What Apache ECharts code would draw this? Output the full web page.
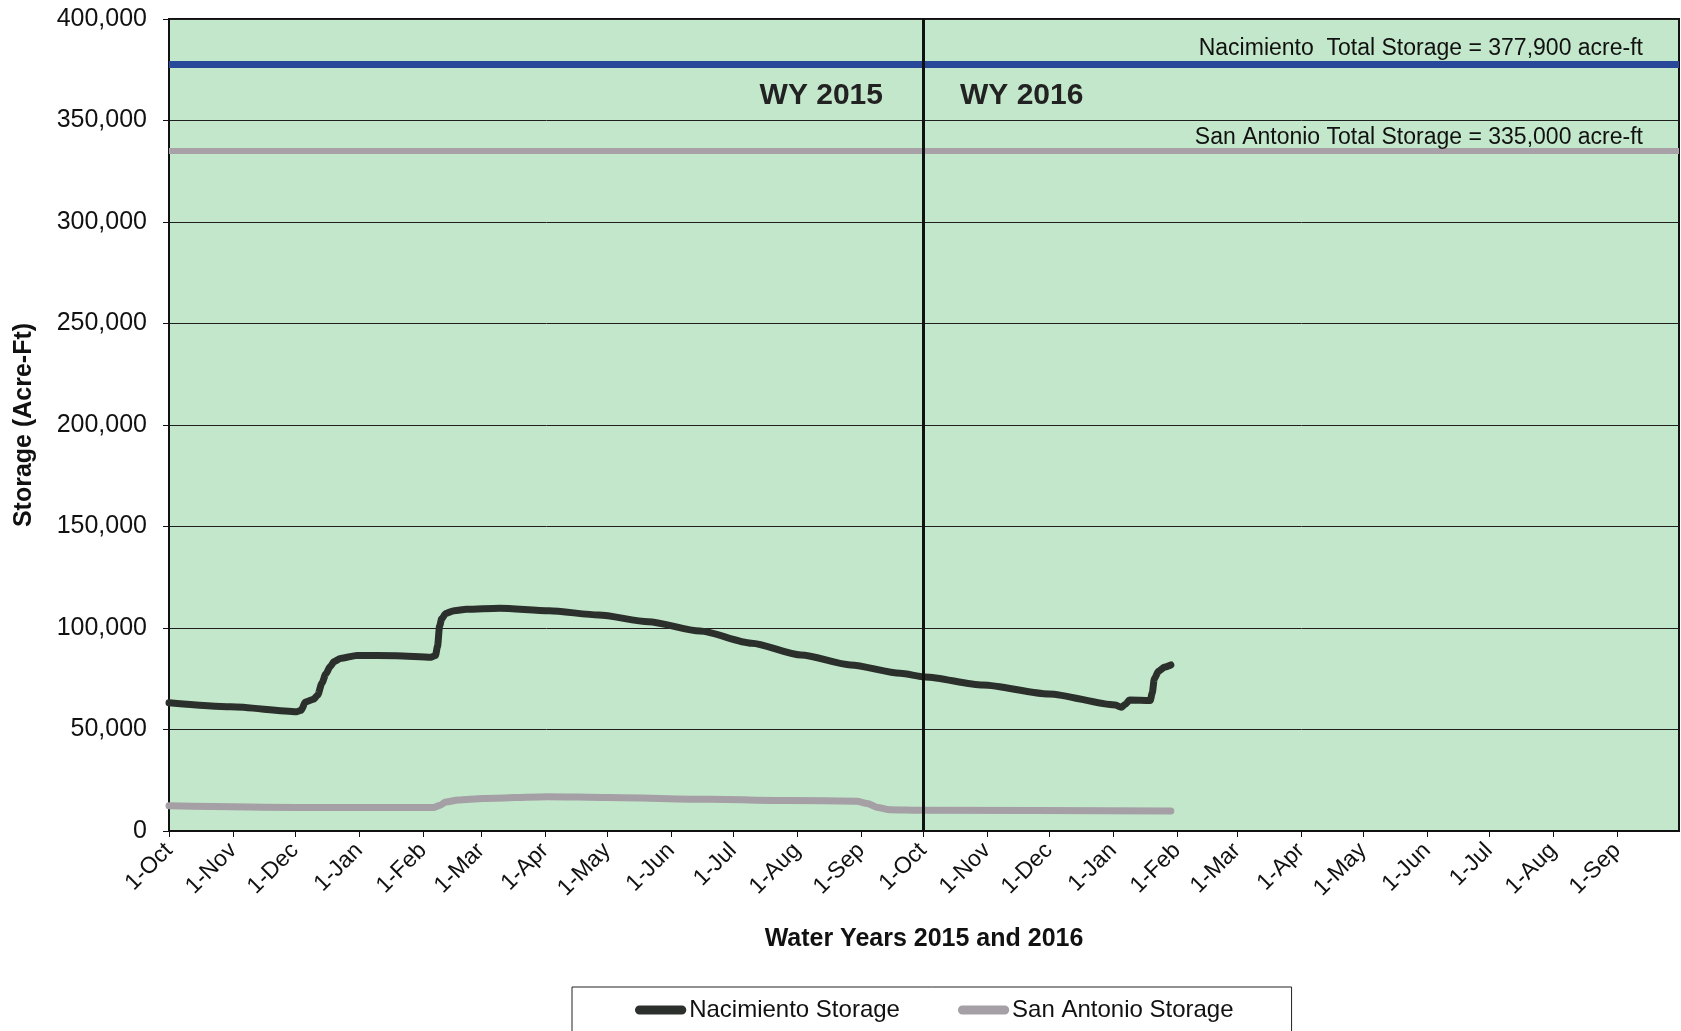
<!DOCTYPE html>
<html>
<head>
<meta charset="utf-8">
<script src="https://cdn.jsdelivr.net/npm/echarts@6/dist/echarts.min.js"></script>
<style>
  html, body { margin: 0; padding: 0; background: #ffffff; }
  #chart { width: 1681px; height: 1031px; }
</style>
</head>
<body>
<div id="chart"></div>
<script>
// ---- Data ----
const startDate = '2014-10-01';
const endDate = '2016-10-01';

const tickDates = [
  '2014-10-01','2014-11-01','2014-12-01','2015-01-01','2015-02-01','2015-03-01',
  '2015-04-01','2015-05-01','2015-06-01','2015-07-01','2015-08-01','2015-09-01',
  '2015-10-01','2015-11-01','2015-12-01','2016-01-01','2016-02-01','2016-03-01',
  '2016-04-01','2016-05-01','2016-06-01','2016-07-01','2016-08-01','2016-09-01'
];
const tickLabels = [
  '1-Oct','1-Nov','1-Dec','1-Jan','1-Feb','1-Mar','1-Apr','1-May','1-Jun','1-Jul','1-Aug','1-Sep',
  '1-Oct','1-Nov','1-Dec','1-Jan','1-Feb','1-Mar','1-Apr','1-May','1-Jun','1-Jul','1-Aug','1-Sep'
];

const nacDates = [
  '2014-10-01','2014-10-31','2014-12-02','2014-12-04','2014-12-06','2014-12-10','2014-12-12',
  '2014-12-14','2014-12-16','2014-12-18','2014-12-20','2014-12-23','2014-12-31','2015-01-19',
  '2015-02-05','2015-02-07','2015-02-08','2015-02-09','2015-02-10','2015-02-12','2015-02-16',
  '2015-02-22','2015-03-10','2015-04-03','2015-04-27','2015-05-21','2015-06-15','2015-07-10',
  '2015-08-03','2015-08-27','2015-09-20','2015-10-02','2015-10-30','2015-12-01','2016-01-02',
  '2016-01-05','2016-01-07','2016-01-09','2016-01-19','2016-01-20','2016-01-21','2016-01-23',
  '2016-01-26','2016-01-29'
];
const nacValues = [
  63200, 61200, 58800, 59500, 63500, 64900, 67000,
  72800, 77500, 81000, 83500, 85000, 86500, 86300,
  85600, 86500, 91000, 101000, 104500, 107200, 108500,
  109200, 109700, 108500, 106400, 103100, 98500, 92500,
  86700, 81800, 77700, 75900, 71900, 67500, 62100,
  61000, 62500, 64500, 64300, 68000, 75000, 78700,
  80800, 81800
];

const saDates = [
  '2014-10-01','2014-12-02','2015-02-06','2015-02-09','2015-02-12','2015-02-18','2015-03-02',
  '2015-04-02','2015-05-02','2015-06-20','2015-07-28','2015-08-30','2015-09-04','2015-09-09',
  '2015-09-15','2015-10-01','2016-01-29'
];
const saValues = [
  12400, 11600, 11600, 12600, 14300, 15300, 16000,
  16900, 16500, 15600, 15000, 14700, 13600, 11600,
  10500, 10200, 9900
];

const nacTotal = 377900;
const saTotal = 335000;
const nacTotalLabel = 'Nacimiento  Total Storage = 377,900 acre-ft';
const saTotalLabel = 'San Antonio Total Storage = 335,000 acre-ft';
const yearSplitDate = '2015-10-01';
const yearLabels = ['WY 2015', 'WY 2016'];
const yearLabelLevel = 362000;

const seriesNames = ['Nacimiento Storage', 'San Antonio Storage'];

// ---- Helpers ----
function dayOf(s) {
  const p = s.split('-').map(Number);
  const o = startDate.split('-').map(Number);
  return Math.round((Date.UTC(p[0], p[1] - 1, p[2]) - Date.UTC(o[0], o[1] - 1, o[2])) / 86400000);
}
const tickDays = tickDates.map(dayOf);
const nacData = nacDates.map((d, i) => [dayOf(d), nacValues[i]]);
const saData = saDates.map((d, i) => [dayOf(d), saValues[i]]);
const splitDay = dayOf(yearSplitDate);

const FONT = '"Liberation Sans", Arial, Helvetica, sans-serif';
const capsule = 'path://M5,0 L52,0 A5,5 0 0 1 52,10 L5,10 A5,5 0 0 1 5,0 Z';

const chart = echarts.init(document.getElementById('chart'), null, { renderer: 'canvas' });

const option = {
  backgroundColor: '#ffffff',
  animation: false,
  textStyle: { fontFamily: FONT },
  grid: {
    left: 169, right: 2, top: 19, bottom: 200,
    show: true,
    backgroundColor: '#c3e7ca',
    borderColor: '#111111',
    borderWidth: 2
  },
  legend: {
    data: [
      { name: seriesNames[0], icon: capsule },
      { name: seriesNames[1], icon: capsule }
    ],
    left: 572,
    top: 987,
    orient: 'horizontal',
    itemWidth: 57,
    itemHeight: 9,
    itemGap: 58,
    padding: [11, 58, 40, 63],
    borderColor: '#222222',
    borderWidth: 1,
    textStyle: { fontFamily: FONT, fontSize: 24, color: '#111111', padding: [0, 0, 0, -5] }
  },
  xAxis: {
    type: 'value',
    min: 0,
    max: dayOf(endDate),
    name: 'Water Years 2015 and 2016',
    nameLocation: 'middle',
    nameGap: 96,
    nameTextStyle: { fontFamily: FONT, fontSize: 25, fontWeight: 'bold', color: '#111111' },
    axisLine: { show: true, lineStyle: { color: '#111111', width: 2 } },
    axisTick: { show: true, customValues: tickDays, length: 6, lineStyle: { color: '#111111', width: 1 } },
    axisLabel: {
      show: true,
      customValues: tickDays,
      rotate: 45,
      margin: 16,
      fontFamily: FONT,
      fontSize: 23,
      color: '#111111',
      formatter: function (v) {
        const i = tickDays.indexOf(Math.round(v));
        return i >= 0 ? tickLabels[i] : '';
      }
    },
    splitLine: { show: false }
  },
  yAxis: {
    type: 'value',
    min: 0,
    max: 400000,
    interval: 50000,
    name: 'Storage (Acre-Ft)',
    nameLocation: 'middle',
    nameGap: 132,
    nameRotate: 90,
    nameTextStyle: { fontFamily: FONT, fontSize: 25, fontWeight: 'bold', color: '#111111' },
    axisLine: { show: true, lineStyle: { color: '#111111', width: 2 } },
    axisTick: { show: true, length: 6, lineStyle: { color: '#111111', width: 1 } },
    axisLabel: {
      margin: 22,
      fontFamily: FONT,
      fontSize: 25,
      color: '#111111',
      formatter: function (v) { return v.toLocaleString('en-US'); }
    },
    splitLine: { show: true, lineStyle: { color: '#1e1e1e', width: 1 } }
  },
  series: [
    {
      name: seriesNames[1],
      type: 'line',
      data: saData,
      showSymbol: false,
      smooth: 0.25,
      smoothMonotone: 'x',
      color: '#a59fa6',
      lineStyle: { color: '#a59fa6', width: 7, cap: 'round', join: 'round' },
      z: 3
    },
    {
      name: seriesNames[0],
      type: 'line',
      data: nacData,
      showSymbol: false,
      smooth: 0.25,
      smoothMonotone: 'x',
      color: '#2b302d',
      lineStyle: { color: '#2b302d', width: 7, cap: 'round', join: 'round' },
      z: 4,
      markLine: {
        silent: true,
        symbol: ['none', 'none'],
        animation: false,
        data: [
          {
            yAxis: nacTotal,
            lineStyle: { color: '#28489a', width: 7, type: 'solid' },
            label: {
              show: true, position: 'insideEndTop', distance: [36, 4],
              formatter: nacTotalLabel, fontFamily: FONT, fontSize: 23, color: '#111111'
            }
          },
          {
            yAxis: saTotal,
            lineStyle: { color: '#a8a1a8', width: 6, type: 'solid' },
            label: {
              show: true, position: 'insideEndTop', distance: [36, 2],
              formatter: saTotalLabel, fontFamily: FONT, fontSize: 23, color: '#111111'
            }
          },
          {
            xAxis: splitDay,
            lineStyle: { color: '#111111', width: 3, type: 'solid' },
            label: { show: false }
          }
        ]
      },
      markPoint: {
        silent: true,
        symbol: 'circle',
        symbolSize: 0,
        animation: false,
        data: [
          {
            coord: [splitDay, yearLabelLevel],
            label: { show: true, position: 'left', distance: 40, formatter: yearLabels[0],
                     fontFamily: FONT, fontSize: 30, fontWeight: 'bold', color: '#222222' }
          },
          {
            coord: [splitDay, yearLabelLevel],
            label: { show: true, position: 'right', distance: 37, formatter: yearLabels[1],
                     fontFamily: FONT, fontSize: 30, fontWeight: 'bold', color: '#222222' }
          }
        ]
      }
    }
  ]
};

chart.setOption(option);
</script>
</body>
</html>
